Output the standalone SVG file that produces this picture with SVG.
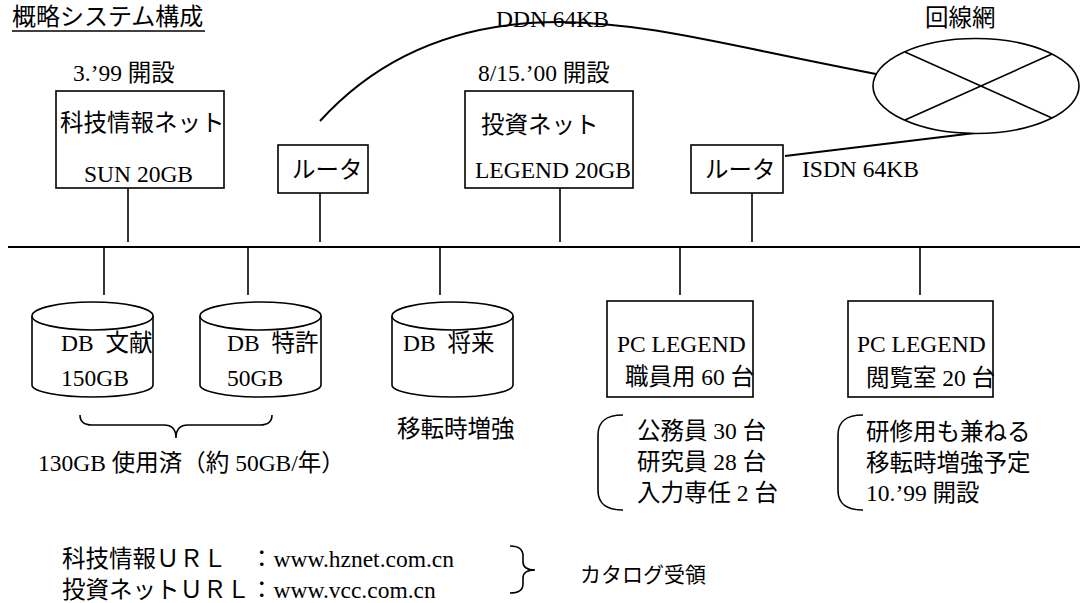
<svg xmlns="http://www.w3.org/2000/svg" width="1080" height="603" viewBox="0 0 1080 603">
<style>
  .t { font-family: "Liberation Serif", "Noto Sans CJK JP", serif; font-size: 23.5px; fill: #000; white-space: pre; }
  .ttl { font-size: 24px; }
  .sm { font-size: 21px; }
  .ln { stroke: #000; stroke-width: 1.6; fill: none; }
  .bus { stroke: #000; stroke-width: 2; fill: none; }
  .box { fill: #fff; stroke: #000; stroke-width: 1.6; }
</style>
<rect width="1080" height="603" fill="#fff"/>

<g id="title">
  <text class="t ttl" x="12" y="25">概略システム構成</text>
  <line class="ln" x1="12" y1="31" x2="205" y2="31"/>
</g>

<g id="connectors">
  <line class="bus" x1="8" y1="247" x2="1080" y2="247"/>
  <line class="ln" x1="128" y1="188" x2="128" y2="242"/>
  <line class="ln" x1="320" y1="193" x2="320" y2="242"/>
  <line class="ln" x1="560" y1="188" x2="560" y2="242"/>
  <line class="ln" x1="752" y1="193" x2="752" y2="242"/>
  <line class="ln" x1="104" y1="247" x2="104" y2="295"/>
  <line class="ln" x1="248" y1="247" x2="248" y2="295"/>
  <line class="ln" x1="440" y1="247" x2="440" y2="295"/>
  <line class="ln" x1="680" y1="247" x2="680" y2="295"/>
  <line class="ln" x1="920" y1="247" x2="920" y2="295"/>
  <path class="ln" style="stroke-width:2" d="M320,121 C380,55 460,22 560,22 C650,23 720,44 876,74"/>
  <line class="ln" style="stroke-width:2" x1="785" y1="156" x2="975" y2="133"/>
</g>

<g id="labels-links">
  <text class="t" x="496" y="27">DDN 64KB</text>
  <text class="t" x="802" y="177">ISDN 64KB</text>
</g>

<g id="net">
  <text class="t" x="925" y="26">回線網</text>
  <ellipse class="box" cx="976" cy="86" rx="103" ry="47.5"/>
  <line class="ln" x1="905" y1="52" x2="1052" y2="118"/>
  <line class="ln" x1="1052" y1="54" x2="905" y2="120"/>
</g>

<g id="kagi-net">
  <text class="t" x="73" y="81">3.’99 開設</text>
  <rect class="box" x="56" y="91" width="168" height="97"/>
  <text class="t" x="60" y="131">科技情報ネット</text>
  <text class="t" x="84" y="182">SUN 20GB</text>
</g>

<g id="router1">
  <rect class="box" x="278" y="145" width="90" height="48"/>
  <text class="t" x="292" y="178">ルータ</text>
</g>

<g id="toshi-net">
  <text class="t" x="478" y="81">8/15.’00 開設</text>
  <rect class="box" x="465" y="91" width="168" height="97"/>
  <text class="t" x="481" y="133">投資ネット</text>
  <text class="t" x="475" y="178">LEGEND 20GB</text>
</g>

<g id="router2">
  <rect class="box" x="691" y="145" width="92" height="48"/>
  <text class="t" x="705" y="178">ルータ</text>
</g>

<g id="db-bunken">
  <path class="box" d="M32,316 V385 A60.5,12 0 0 0 153,385 V316"/>
  <ellipse class="box" cx="92.5" cy="316" rx="60.5" ry="14"/>
  <text class="t" x="61" y="351">DB  文献</text>
  <text class="t" x="61" y="386">150GB</text>
</g>

<g id="db-tokkyo">
  <path class="box" d="M200,316 V385 A60.5,12 0 0 0 321,385 V316"/>
  <ellipse class="box" cx="260.5" cy="316" rx="60.5" ry="14"/>
  <text class="t" x="227" y="351">DB  特許</text>
  <text class="t" x="227" y="386">50GB</text>
</g>

<g id="db-shorai">
  <path class="box" d="M392,316 V385 A60.5,12 0 0 0 513,385 V316"/>
  <ellipse class="box" cx="452.5" cy="316" rx="60.5" ry="14"/>
  <text class="t" x="403" y="351">DB  将来</text>
</g>

<g id="pc-staff">
  <rect class="box" x="607" y="301" width="146" height="96"/>
  <text class="t" x="617" y="352">PC LEGEND</text>
  <text class="t" x="625" y="385">職員用 60 台</text>
</g>

<g id="pc-reading">
  <rect class="box" x="848" y="301" width="145" height="96"/>
  <text class="t" x="857" y="352">PC LEGEND</text>
  <text class="t" x="866" y="386">閲覧室 20 台</text>
</g>

<g id="note-db">
  <path class="ln" d="M80,415 Q80,425 92,425 L164,425 Q176,425 176,438 Q176,425 188,425 L260,425 Q272,425 272,415"/>
  <text class="t" x="38" y="471">130GB 使用済（約 50GB/年）</text>
</g>

<g id="note-future">
  <text class="t" x="397" y="437">移転時増強</text>
</g>

<g id="note-staff">
  <path class="ln" d="M623,415 C605,415 598,422 598,435 L598,490 C598,503 605,510 623,510"/>
  <text class="t" x="637" y="439">公務員 30 台</text>
  <text class="t" x="637" y="470">研究員 28 台</text>
  <text class="t" x="637" y="501">入力専任 2 台</text>
</g>

<g id="note-reading">
  <path class="ln" d="M863,415 C845,415 838,422 838,435 L838,490 C838,503 845,510 863,510"/>
  <text class="t" x="866" y="440">研修用も兼ねる</text>
  <text class="t" x="866" y="471">移転時増強予定</text>
  <text class="t" x="866" y="501">10.’99 開設</text>
</g>

<g id="urls">
  <text class="t" x="62" y="567">科技情報ＵＲＬ　：www.hznet.com.cn</text>
  <text class="t" x="62" y="598">投資ネットＵＲＬ：www.vcc.com.cn</text>
  <path class="ln" d="M510,546 Q523,546 523,556 L523,562 Q523,570 535,570 Q523,570 523,578 L523,584 Q523,593 510,593"/>
  <text class="t sm" x="580" y="582">カタログ受領</text>
</g>
</svg>
